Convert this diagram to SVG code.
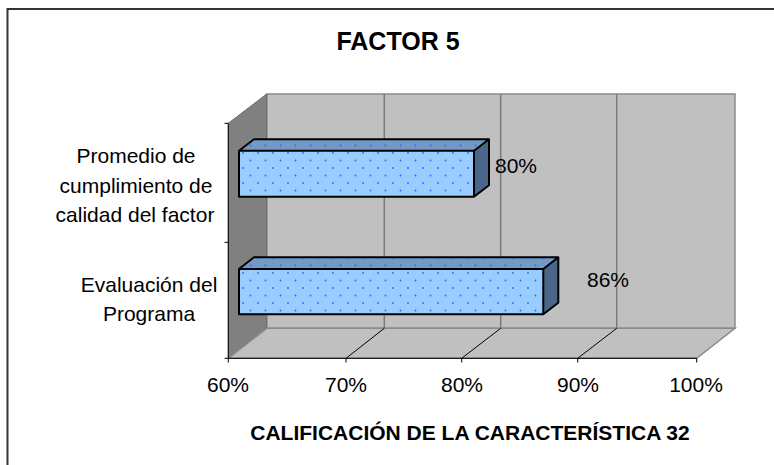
<svg xmlns="http://www.w3.org/2000/svg" width="774" height="465" viewBox="0 0 774 465">
<style>
text{font-family:"Liberation Sans",Arial,sans-serif;fill:#000}
.lbl{font-size:21px}
.ttl{font-size:25px;font-weight:bold}
.axt{font-size:21px;font-weight:bold}
.grid{stroke:#7a7a7a;stroke-width:1.5;fill:none}
.diag{stroke:#000;stroke-width:1;fill:none}
.axis{stroke:#000;stroke-width:1;fill:none}
.bar{stroke:#000;stroke-width:2;stroke-linejoin:round}
.front{fill:#99CCFF}
.top{fill:#7399C6}
.side{fill:#4B6686}
.dots{fill:url(#dots);stroke:none}
</style>
<defs>
<pattern id="dots" width="15" height="15" patternUnits="userSpaceOnUse">
<circle cx="3" cy="3" r="0.9" fill="#3366FF"/>
<circle cx="10.5" cy="10.5" r="0.9" fill="#3366FF"/>
</pattern>
</defs>
<rect x="0" y="0" width="774" height="465" fill="#fff"/>
<rect x="7.5" y="9" width="780" height="470" fill="none" stroke="#333" stroke-width="2"/>

<g id="title"><text class="ttl" x="398" y="50" text-anchor="middle">FACTOR 5</text></g>

<g id="plot">
<polygon points="266.7,94 735,94 735,328.3 266.7,328.3" fill="#C0C0C0" stroke="#8a8a8a" stroke-width="1.5"/>
<polygon points="228.3,123.3 266.7,94 266.7,328.3 228.3,358.3" fill="#808080" stroke="#6a6a6a" stroke-width="1"/>
<polygon points="228.3,358.3 266.7,328.3 735,328.3 696.7,358.3" fill="#C0C0C0" stroke="#8a8a8a" stroke-width="1.5"/>
<line class="grid" x1="384.3" y1="94" x2="384.3" y2="328.3"/>
<line class="grid" x1="500.7" y1="94" x2="500.7" y2="328.3"/>
<line class="grid" x1="616.7" y1="94" x2="616.7" y2="328.3"/>
<line class="diag" x1="346" y1="358.3" x2="384.3" y2="328.3"/>
<line class="diag" x1="461.7" y1="358.3" x2="500.7" y2="328.3"/>
<line class="diag" x1="577.7" y1="358.3" x2="616.7" y2="328.3"/>
<path class="axis" d="M228.3,123.3V358.3H696.7 M224.5,123.3H228.3 M224.5,242.3H228.3 M224.5,358.3H228.3 M228.3,358.3V362.5 M346,358.3V362.5 M461.7,358.3V362.5 M577.7,358.3V362.5 M696.7,358.3V362.5"/>
</g>

<g id="bar-promedio">
<polygon class="top" points="239,150.7 254,139.3 489,139.3 474,150.7"/>
<polygon class="dots" points="239,150.7 254,139.3 489,139.3 474,150.7"/>
<polygon class="side" points="474,150.7 489,139.3 489,185.3 474,196.7"/>
<polygon class="dots" points="474,150.7 489,139.3 489,185.3 474,196.7"/>
<rect class="front" x="239" y="150.7" width="235" height="46"/>
<rect class="dots" x="239" y="150.7" width="235" height="46"/>
<path class="bar" fill="none" d="M239,150.7L254,139.3H489L474,150.7ZM474,150.7H239V196.7H474ZM489,139.3V185.3L474,196.7"/>
<text class="lbl" x="495" y="173">80%</text>
</g>

<g id="bar-evaluacion">
<polygon class="top" points="239,269 254,257.3 558.3,257.3 543.3,269"/>
<polygon class="dots" points="239,269 254,257.3 558.3,257.3 543.3,269"/>
<polygon class="side" points="543.3,269 558.3,257.3 558.3,302.7 543.3,314.3"/>
<polygon class="dots" points="543.3,269 558.3,257.3 558.3,302.7 543.3,314.3"/>
<rect class="front" x="239" y="269" width="304.3" height="45.3"/>
<rect class="dots" x="239" y="269" width="304.3" height="45.3"/>
<path class="bar" fill="none" d="M239,269L254,257.3H558.3L543.3,269ZM543.3,269H239V314.3H543.3ZM558.3,257.3V302.7L543.3,314.3"/>
<text class="lbl" x="587" y="287">86%</text>
</g>

<g id="cat-labels">
<text class="lbl" text-anchor="middle" x="136" y="163">Promedio de</text>
<text class="lbl" text-anchor="middle" x="136" y="193">cumplimiento de</text>
<text class="lbl" text-anchor="middle" x="135" y="222">calidad del factor</text>
<text class="lbl" text-anchor="middle" x="149" y="292">Evaluación del</text>
<text class="lbl" text-anchor="middle" x="149" y="321">Programa</text>
</g>

<g id="tick-labels">
<text class="lbl" text-anchor="middle" x="228" y="392">60%</text>
<text class="lbl" text-anchor="middle" x="346" y="392">70%</text>
<text class="lbl" text-anchor="middle" x="462" y="392">80%</text>
<text class="lbl" text-anchor="middle" x="578" y="392">90%</text>
<text class="lbl" text-anchor="middle" x="696" y="392">100%</text>
</g>

<g id="axis-title"><text class="axt" x="470" y="440" text-anchor="middle">CALIFICACIÓN DE LA CARACTERÍSTICA 32</text></g>
</svg>
